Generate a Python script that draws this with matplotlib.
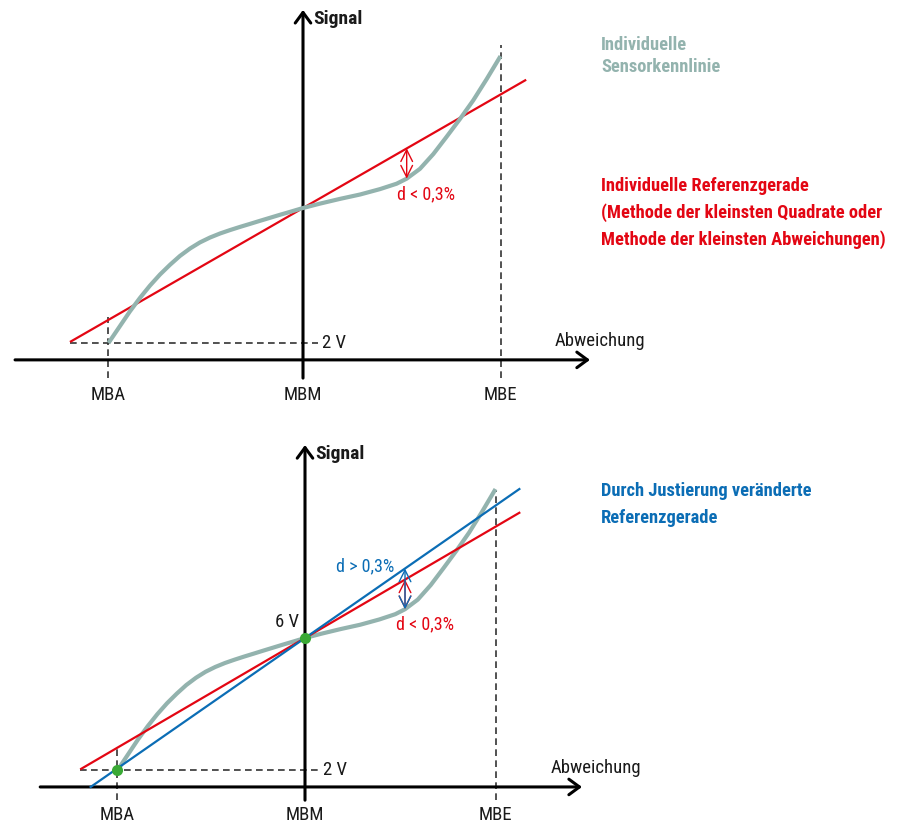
import matplotlib
matplotlib.use("Agg")
import matplotlib.pyplot as plt
from matplotlib import font_manager

# Kennlinie, x: Messbereich (MBM = 0), y: Signal in V
sensor_x = [-0.985, -0.927, -0.876, -0.825, -0.775, -0.724, -0.673, -0.623, -0.572,
            -0.522, -0.471, -0.420, -0.370, -0.319, -0.268, -0.218, -0.167, -0.116,
            -0.066, 0.0, 0.086, 0.187, 0.289, 0.390, 0.474, 0.525, 0.592, 0.660,
            0.727, 0.795, 0.862, 0.930, 1.0]
sensor_y = [2.0, 2.50, 2.94, 3.34, 3.70, 4.03, 4.32, 4.58, 4.80,
            4.98, 5.125, 5.245, 5.345, 5.44, 5.53, 5.62, 5.71, 5.80,
            5.885, 6.0, 6.13, 6.27, 6.40, 6.56, 6.72, 6.87, 7.16, 7.60,
            8.11, 8.64, 9.19, 9.82, 10.50]

# Referenzgeraden
red_x = [-1.18, 1.13]
red_y = [2.03, 9.80]
blue_x = [-1.13, 1.13]
blue_y = [1.48, 10.52]

# Abstand d
d_x = 0.525
d_sensor = 6.87
d_red = 7.77
d_blue = 8.10

# Punkte der Justierung
adj_x = [-0.985, 0.0]
adj_y = [2.0, 6.0]

tick_pos = [-0.985, 0, 1.0]
tick_labels = ["MBA", "MBM", "MBE"]
v_low = 2.0

RED = "#e30613"
BLUE = "#0b6db5"
TEAL = "#93b3ae"
GREEN = "#3aa935"
DARK = "#1a1a1a"

names = {f.name for f in font_manager.fontManager.ttflist}
family = "DejaVu Sans"
for cand in ["Liberation Sans Narrow", "Roboto Condensed", "Open Sans Condensed", "Liberation Sans"]:
    if cand in names:
        family = cand
        break
plt.rcParams["font.family"] = [family, "DejaVu Sans"]

W, H = 899, 827
fig = plt.figure(figsize=(W / 100, H / 100), dpi=100)


def fx(px):
    return px / W


def fy(py):
    return 1 - py / H


# obere Grafik
ax1 = fig.add_axes([0, fy(413), 1, 413 / H])
ax1.set_xlim(-1.5342, 3.0177)
ax1.set_ylim(-0.074, 12.163)
# untere Grafik
ax2 = fig.add_axes([0, 0, 1, 414 / H])
ax2.set_xlim(-1.601, 3.118)
ax2.set_ylim(0.290, 12.798)

axis_arrow = dict(arrowstyle="->,head_length=0.38,head_width=0.28", lw=2.2,
                  color="black", shrinkA=0, shrinkB=0, mutation_scale=20)
dash = dict(color="#333333", lw=1.2, dashes=(4, 2.6))
d_style = "<->,head_length=0.7,head_width=0.35"
FS = 13.5


def panel(ax, x_left, x_right, y_top, y_bottom, mbe_top, label_y, abw_x, y_axis_at=1.5):
    ax.axis("off")
    # Achsen
    ax.annotate("", xy=(x_right, y_axis_at), xytext=(x_left, y_axis_at), arrowprops=axis_arrow)
    ax.annotate("", xy=(0, y_top), xytext=(0, y_bottom), arrowprops=axis_arrow)
    # Hilfslinien
    ax.plot([red_x[0], 0.076], [v_low, v_low], **dash)
    ax.plot([tick_pos[0], tick_pos[0]], [y_bottom, 2.77], **dash)
    ax.plot([tick_pos[2], tick_pos[2]], [y_bottom, mbe_top], **dash)
    for p, t in zip(tick_pos, tick_labels):
        ax.text(p, label_y, t, ha="center", va="center", fontsize=FS, color=DARK)
    ax.text(0.096, v_low, "2 V", ha="left", va="center", fontsize=FS, color=DARK)
    ax.text(0.052, y_top - 0.27, "Signal", ha="left", va="center", fontsize=14,
            fontweight="bold", color=DARK)
    ax.text(abw_x, 2.07, "Abweichung", ha="left", va="center", fontsize=FS, color=DARK)


def d_arrow(ax, y_line, color, z):
    ax.annotate("", xy=(d_x, y_line), xytext=(d_x, d_sensor),
                arrowprops=dict(arrowstyle=d_style, lw=1.0, color=color,
                                shrinkA=0, shrinkB=0, mutation_scale=12), zorder=z)


# --- oben ---
panel(ax1, -1.458, 1.453, 11.87, 0.96, 10.83, 0.46, 1.276)
ax1.plot(red_x, red_y, color=RED, lw=1.6, solid_capstyle="butt", zorder=3)
ax1.plot(sensor_x, sensor_y, color=TEAL, lw=3.0, solid_capstyle="butt",
         solid_joinstyle="round", zorder=4)
d_arrow(ax1, d_red, RED, 5)
ax1.text(0.623, 6.41, "d < 0,3%", ha="center", va="center", fontsize=13, color=RED)

# --- unten ---
panel(ax2, -1.39, 1.454, 11.83, 1.1, 10.47, 0.65, 1.291)
ax2.plot(red_x, red_y, color=RED, lw=1.6, solid_capstyle="butt", zorder=3)
ax2.plot(blue_x, blue_y, color=BLUE, lw=1.6, solid_capstyle="butt", zorder=3)
ax2.plot(sensor_x, sensor_y, color=TEAL, lw=3.0, solid_capstyle="butt",
         solid_joinstyle="round", zorder=2)
d_arrow(ax2, d_red, RED, 5)
d_arrow(ax2, d_blue, BLUE, 6)
ax2.plot(adj_x, adj_y, "o", color=GREEN, ms=8, mec="none", zorder=7)
ax2.text(0.63, 6.42, "d < 0,3%", ha="center", va="center", fontsize=13, color=RED)
ax2.text(0.315, 8.15, "d > 0,3%", ha="center", va="center", fontsize=13, color=BLUE)
ax2.text(-0.03, 6.48, "6 V", ha="right", va="center", fontsize=FS, color=DARK)

# Legendentexte
LFS = 13.3
fig.text(fx(601), fy(45), "Individuelle", ha="left", va="center", fontsize=LFS,
         fontweight="bold", color=TEAL)
fig.text(fx(601), fy(67), "Sensorkennlinie", ha="left", va="center", fontsize=LFS,
         fontweight="bold", color=TEAL)
for i, line in enumerate(["Individuelle Referenzgerade",
                          "(Methode der kleinsten Quadrate oder",
                          "Methode der kleinsten Abweichungen)"]):
    fig.text(fx(601), fy(186 + 27 * i), line, ha="left", va="center", fontsize=LFS,
             fontweight="bold", color=RED)
fig.text(fx(601), fy(491), "Durch Justierung veränderte", ha="left", va="center",
         fontsize=LFS, fontweight="bold", color=BLUE)
fig.text(fx(601), fy(518), "Referenzgerade", ha="left", va="center", fontsize=LFS,
         fontweight="bold", color=BLUE)

fig.savefig("out.png", dpi=100)
